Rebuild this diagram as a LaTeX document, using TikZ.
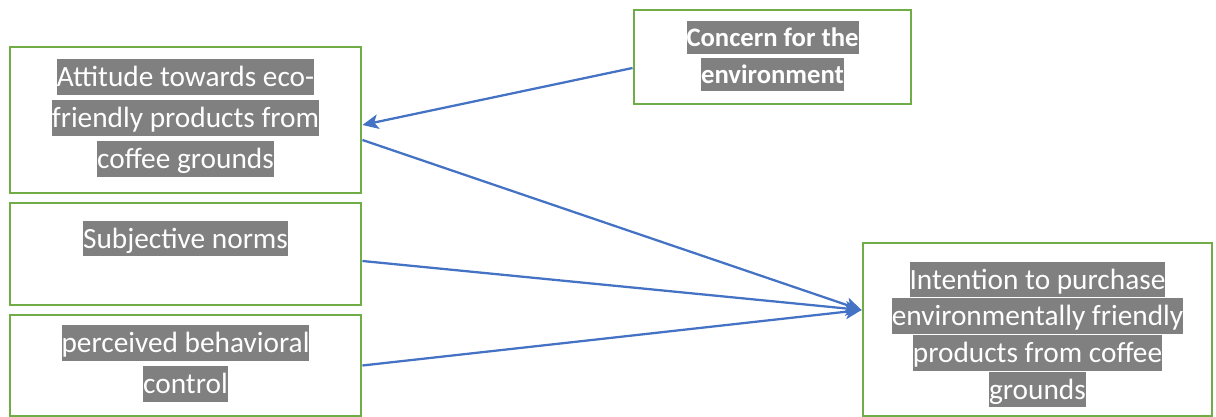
\documentclass[tikz,border=0pt]{standalone}
\usepackage{fontspec}
\setmainfont{Carlito}
\usetikzlibrary{fit,calc,arrows.meta}
\definecolor{boxgreen}{HTML}{70AD47}
\definecolor{arrblue}{HTML}{4472C4}
\definecolor{hlgray}{HTML}{808080}
\setlength{\fboxsep}{0pt}
\newcommand{\hl}[1]{\colorbox{hlgray}{\rule[-0.28em]{0pt}{1.22em}#1}}

\begin{document}
\begin{tikzpicture}[x=0.75pt,y=-0.75pt,
    box/.style={draw=boxgreen,line width=2.2pt,inner sep=0pt},
    txt/.style={inner sep=0pt,align=center,text=white,font=\fontsize{22}{30.75}\selectfont},
    arr/.style={draw=arrblue,line width=1.7pt,-{Stealth[length=12pt,width=11pt,inset=3pt]}}]
      \useasboundingbox (0,0) rectangle (1216,417);
      %% Boxes
      \node[box,fit={(10,47) (361,193)}] (att) {};
      \node[box,fit={(10,203) (361,305)}] (subj) {};
      \node[box,fit={(10,315) (361,416)}] (pbc) {};
      \node[box,fit={(634,10) (911,104)}] (env) {};
      \node[box,fit={(863,243) (1212,416)}] (int) {};
      %% Texts
      \node[txt] (atttxt) at ($(att.center)+(0,-2)$)
        {\hl{Attitude towards eco-}\\\hl{friendly products from}\\\hl{coffee grounds}};
      \node[txt] (subjtxt) at ($(subj.center)+(0,-15.5)$) {\hl{Subjective norms}};
      \node[txt] (pbctxt) at ($(pbc.center)+(0,-2)$)
        {\hl{perceived behavioral}\\\hl{control}};
      \node[txt,font=\fontsize{20}{27.75}\selectfont\bfseries] (envtxt) at ($(env.center)+(0,-1)$)
        {\hl{Concern for the}\\\hl{environment}};
      \node[txt,font=\fontsize{22}{27.5}\selectfont] (inttxt) at ($(int.center)+(0,5)$)
        {\hl{Intention to purchase}\\\hl{environmentally friendly}\\\hl{products from coffee}\\\hl{grounds}};
      %% Arrows
      \coordinate (intin) at ($(int.west)+(0,-19.5)$);
      \draw[arr] ($(env.west)+(0,11)$) -- ($(att.east)+(0,5)$);
      \draw[arr] ($(att.east)+(0,20)$) -- (intin);
      \draw[arr] ($(subj.east)+(0,7)$) -- (intin);
      \draw[arr] (pbc.east) -- (intin);
\end{tikzpicture}
\end{document}
